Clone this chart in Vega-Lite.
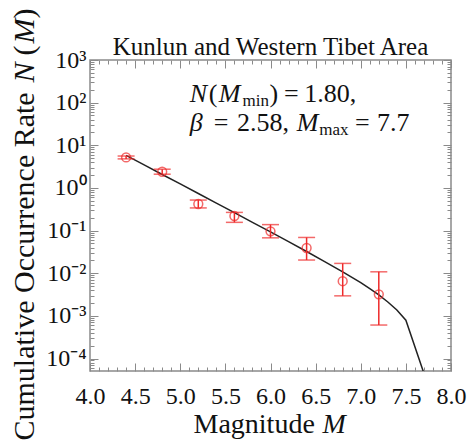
{
  "$schema": "https://vega.github.io/schema/vega-lite/v6.json",
  "width": 361,
  "height": 311,
  "autosize": {"type": "none"},
  "padding": {"left": 90, "top": 60, "right": 17, "bottom": 72},
  "background": "white",
  "title": {"text": "Kunlun and Western Tibet Area", "font": "Liberation Serif", "fontSize": 25, "fontWeight": "normal", "color": "#111", "anchor": "middle", "baseline": "alphabetic", "offset": 0, "dy": 72},
  "config": {
    "view": {"stroke": "#8a8a8a", "strokeWidth": 1.5},
    "font": "Liberation Serif",
    "axis": {"domain": false, "grid": false, "tickColor": "#8a8a8a", "tickWidth": 1, "labelFont": "Liberation Serif", "titleFont": "Liberation Serif", "labelColor": "#111", "titleColor": "#111", "titleFontWeight": "normal", "labelFontSize": 24, "titleFontSize": 30}
  },
  "datasets": {
    "obs": [
      {"M": 4.4, "rate": 5.2, "lo": 4.8, "hi": 5.6},
      {"M": 4.8, "rate": 2.4, "lo": 2.1, "hi": 2.75},
      {"M": 5.2, "rate": 0.42, "lo": 0.34, "hi": 0.52},
      {"M": 5.6, "rate": 0.22, "lo": 0.156, "hi": 0.267},
      {"M": 6.0, "rate": 0.096, "lo": 0.0676, "hi": 0.138},
      {"M": 6.4, "rate": 0.039, "lo": 0.0204, "hi": 0.069},
      {"M": 6.8, "rate": 0.0065, "lo": 0.00295, "hi": 0.017},
      {"M": 7.2, "rate": 0.0032, "lo": 0.00061, "hi": 0.0108}
    ]
  },
  "resolve": {"axis": {"x": "independent", "y": "independent"}},
  "layer": [
    {
      "data": {"values": [
        {"M": 4.4, "N": 5.8}, {"M": 4.6, "N": 3.47}, {"M": 4.8, "N": 2.07}, {"M": 5.0, "N": 1.24},
        {"M": 5.2, "N": 0.74}, {"M": 5.4, "N": 0.441}, {"M": 5.6, "N": 0.263}, {"M": 5.8, "N": 0.156},
        {"M": 6.0, "N": 0.093}, {"M": 6.2, "N": 0.055}, {"M": 6.4, "N": 0.0323}, {"M": 6.6, "N": 0.0188},
        {"M": 6.8, "N": 0.0108}, {"M": 7.0, "N": 0.006}, {"M": 7.1, "N": 0.00434}, {"M": 7.2, "N": 0.0031},
        {"M": 7.3, "N": 0.00212}, {"M": 7.4, "N": 0.00137}, {"M": 7.5, "N": 0.00079}, {"M": 7.7, "N": 0.000045}
      ]},
      "mark": {"type": "line", "color": "#222", "strokeWidth": 1.5, "clip": true},
      "encoding": {
        "x": {"field": "M", "type": "quantitative", "scale": {"domain": [4, 8], "nice": false, "zero": false},
          "axis": {"orient": "bottom", "values": [4, 4.5, 5, 5.5, 6, 6.5, 7, 7.5, 8], "format": ".1f", "tickSize": -8, "labelPadding": 21, "labelFlush": false,
            "title": "Magnitude", "titleFontSize": 28, "titleAngle": 0, "titleAlign": "left", "titleBaseline": "alphabetic", "titleX": 103, "titleY": 61}},
        "y": {"field": "N", "type": "quantitative", "scale": {"type": "log", "domain": [0.000051, 1000], "nice": false},
          "axis": {"orient": "left", "values": [0.0001, 0.001, 0.01, 0.1, 1, 10, 100, 1000], "tickSize": -8, "labelPadding": 12,
            "labelExpr": "['10⁻⁴','10⁻³','10⁻²','10⁻¹','10⁰','10¹','10²','10³'][round(log(datum.value)/LN10)+4]",
            "title": "Cumulative Occurrence Rate", "titleAngle": 270, "titleAlign": "left", "titleBaseline": "alphabetic", "titleX": -57, "titleY": 380}}
      }
    },
    {
      "data": {"name": "obs"},
      "mark": {"type": "rule", "color": "#ee2a2a", "strokeWidth": 1.5},
      "encoding": {
        "x": {"field": "M", "type": "quantitative", "scale": {"domain": [4, 8], "nice": false, "zero": false},
          "axis": {"orient": "bottom", "values": [4.1, 4.2, 4.3, 4.4, 4.6, 4.7, 4.8, 4.9, 5.1, 5.2, 5.3, 5.4, 5.6, 5.7, 5.8, 5.9, 6.1, 6.2, 6.3, 6.4, 6.6, 6.7, 6.8, 6.9, 7.1, 7.2, 7.3, 7.4, 7.6, 7.7, 7.8, 7.9], "tickSize": -4, "labels": false,
            "title": "M", "titleFontSize": 28, "titleFontStyle": "italic", "titleAngle": 0, "titleAlign": "left", "titleBaseline": "alphabetic", "titleX": 232, "titleY": 61}},
        "y": {"field": "lo", "type": "quantitative", "scale": {"type": "log", "domain": [0.000051, 1000], "nice": false},
          "axis": {"orient": "left", "values": [0.00006, 0.00007, 0.00008, 0.00009, 0.0002, 0.0003, 0.0004, 0.0005, 0.0006, 0.0007, 0.0008, 0.0009, 0.002, 0.003, 0.004, 0.005, 0.006, 0.007, 0.008, 0.009, 0.02, 0.03, 0.04, 0.05, 0.06, 0.07, 0.08, 0.09, 0.2, 0.3, 0.4, 0.5, 0.6, 0.7, 0.8, 0.9, 2, 3, 4, 5, 6, 7, 8, 9, 20, 30, 40, 50, 60, 70, 80, 90, 200, 300, 400, 500, 600, 700, 800, 900], "tickSize": -4, "labels": false,
            "title": "N", "titleFontStyle": "italic", "titleAngle": 270, "titleAlign": "left", "titleBaseline": "alphabetic", "titleX": -57, "titleY": 22}},
        "y2": {"field": "hi"}
      }
    },
    {
      "data": {"name": "obs"},
      "transform": [{"fold": ["lo", "hi"], "as": ["end", "val"]}],
      "mark": {"type": "tick", "orient": "horizontal", "color": "#ee2a2a", "size": 17, "thickness": 1.5},
      "encoding": {
        "x": {"field": "M", "type": "quantitative", "scale": {"domain": [4, 8], "nice": false, "zero": false},
          "axis": {"orient": "top", "values": [4, 4.5, 5, 5.5, 6, 6.5, 7, 7.5, 8], "tickSize": -8, "labels": false, "title": null}},
        "y": {"field": "val", "type": "quantitative", "scale": {"type": "log", "domain": [0.000051, 1000], "nice": false},
          "axis": {"orient": "right", "values": [0.0001, 0.001, 0.01, 0.1, 1, 10, 100, 1000], "tickSize": -8, "labels": false,
            "title": "(", "titleAngle": 270, "titleAlign": "left", "titleBaseline": "alphabetic", "titleX": -418, "titleY": -5}}
      }
    },
    {
      "data": {"name": "obs"},
      "mark": {"type": "point", "shape": "circle", "filled": false, "color": "#ee2a2a", "size": 78, "strokeWidth": 1.5},
      "encoding": {
        "x": {"field": "M", "type": "quantitative", "scale": {"domain": [4, 8], "nice": false, "zero": false},
          "axis": {"orient": "top", "values": [4.1, 4.2, 4.3, 4.4, 4.6, 4.7, 4.8, 4.9, 5.1, 5.2, 5.3, 5.4, 5.6, 5.7, 5.8, 5.9, 6.1, 6.2, 6.3, 6.4, 6.6, 6.7, 6.8, 6.9, 7.1, 7.2, 7.3, 7.4, 7.6, 7.7, 7.8, 7.9], "tickSize": -4, "labels": false, "title": null}},
        "y": {"field": "rate", "type": "quantitative", "scale": {"type": "log", "domain": [0.000051, 1000], "nice": false},
          "axis": {"orient": "right", "values": [0.00006, 0.00007, 0.00008, 0.00009, 0.0002, 0.0003, 0.0004, 0.0005, 0.0006, 0.0007, 0.0008, 0.0009, 0.002, 0.003, 0.004, 0.005, 0.006, 0.007, 0.008, 0.009, 0.02, 0.03, 0.04, 0.05, 0.06, 0.07, 0.08, 0.09, 0.2, 0.3, 0.4, 0.5, 0.6, 0.7, 0.8, 0.9, 2, 3, 4, 5, 6, 7, 8, 9, 20, 30, 40, 50, 60, 70, 80, 90, 200, 300, 400, 500, 600, 700, 800, 900], "tickSize": -4, "labels": false,
            "title": "M", "titleFontStyle": "italic", "titleAngle": 270, "titleAlign": "left", "titleBaseline": "alphabetic", "titleX": -418, "titleY": -17}}
      }
    },
    {
      "data": {"values": [
        {"x": 5.104, "y": 102, "t": "N"},
        {"x": 5.427, "y": 102, "t": "M"},
        {"x": 5.104, "y": 22.1, "t": "β"},
        {"x": 6.292, "y": 22.1, "t": "M"}
      ]},
      "mark": {"type": "text", "font": "Liberation Serif", "fontSize": 26, "fontStyle": "italic", "align": "left", "baseline": "alphabetic", "color": "#111"},
      "encoding": {
        "x": {"field": "x", "type": "quantitative", "scale": {"domain": [4, 8], "nice": false, "zero": false}, "axis": null},
        "y": {"field": "y", "type": "quantitative", "scale": {"type": "log", "domain": [0.000051, 1000], "nice": false},
          "axis": {"orient": "left", "ticks": false, "labels": false, "values": [], "title": ")", "titleAngle": 270, "titleAlign": "left", "titleBaseline": "alphabetic", "titleX": -57, "titleY": -42}},
        "text": {"field": "t"}
      }
    },
    {
      "data": {"values": [
        {"x": 5.315, "y": 102, "t": "("},
        {"x": 5.99, "y": 102, "t": ")"},
        {"x": 6.15, "y": 102, "t": "="},
        {"x": 6.375, "y": 102, "t": "1.80,"},
        {"x": 5.371, "y": 22.1, "t": "="},
        {"x": 5.63, "y": 22.1, "t": "2.58,"},
        {"x": 6.935, "y": 22.1, "t": "="},
        {"x": 7.18, "y": 22.1, "t": "7.7"}
      ]},
      "mark": {"type": "text", "font": "Liberation Serif", "fontSize": 26, "align": "left", "baseline": "alphabetic", "color": "#111"},
      "encoding": {
        "x": {"field": "x", "type": "quantitative", "scale": {"domain": [4, 8], "nice": false, "zero": false}, "axis": null},
        "y": {"field": "y", "type": "quantitative", "scale": {"type": "log", "domain": [0.000051, 1000], "nice": false}, "axis": null},
        "text": {"field": "t"}
      }
    },
    {
      "data": {"values": [
        {"x": 5.69, "y": 83, "t": "min"},
        {"x": 6.54, "y": 17.8, "t": "max"}
      ]},
      "mark": {"type": "text", "font": "Liberation Serif", "fontSize": 17, "align": "left", "baseline": "alphabetic", "color": "#111"},
      "encoding": {
        "x": {"field": "x", "type": "quantitative", "scale": {"domain": [4, 8], "nice": false, "zero": false}, "axis": null},
        "y": {"field": "y", "type": "quantitative", "scale": {"type": "log", "domain": [0.000051, 1000], "nice": false}, "axis": null},
        "text": {"field": "t"}
      }
    }
  ]
}
